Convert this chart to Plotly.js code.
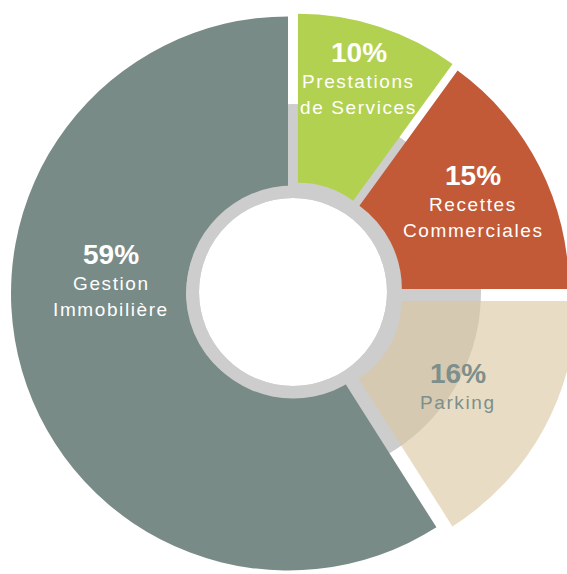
<!DOCTYPE html>
<html><head><meta charset="utf-8">
<script src="https://cdn.plot.ly/plotly-3.0.1.min.js"></script>
<style>html,body{margin:0;padding:0;overflow:hidden;background:#fff}#chart{width:620px;height:574px}</style>
</head><body><div id="chart"></div>
<script>
// ---- data ----
const categories = ['Prestations de Services', 'Recettes Commerciales', 'Parking', 'Gestion Immobilière'];
const shares = [10, 15, 16, 59];
const labelLines = [['Prestations', 'de Services'], ['Recettes', 'Commerciales'], ['Parking'], ['Gestion', 'Immobilière']];

// ---- style / geometry ----
const sliceColors = ['#b2d150', '#c25a37', 'rgba(218,198,162,0.62)', '#798b87'];
const textColors = ['#ffffff', '#ffffff', '#7d8f8b', '#ffffff'];
const pullPx = [16, 6.6, 18.7, 5.2];
const outerR = [263, 270, 267, 277];
const innerR = [94, 103, 92, 102];
const labelAnchor = [[358.5, 62], [473, 185], [458, 383], [111, 264]];
const W = 620, H = 574;
const C = [293, 292];
const ringR = 106.5, holeR = 94, backR = 188;
const ringColor = '#cdcdcd';
const FONT = 'Liberation Sans, Arial, Helvetica, sans-serif';

function domainFor(cx, cy, r) {
  return {x: [(cx - r) / W, (cx + r) / W], y: [1 - (cy + r) / H, 1 - (cy - r) / H]};
}

const total = shares.reduce((a, b) => a + b, 0);
const traces = [];
traces.push({type: 'pie', values: [1], labels: ['fond'], marker: {colors: [ringColor], line: {width: 0}},
  hole: holeR / backR, domain: domainFor(C[0], C[1], backR), textinfo: 'none', hoverinfo: 'skip', sort: false, showlegend: false});

let cum = 0;
shares.forEach((v, i) => {
  const a0 = 360 * cum / total;
  const bis = (a0 + 180 * v / total) * Math.PI / 180;
  const cx = C[0] + pullPx[i] * Math.sin(bis);
  const cy = C[1] - pullPx[i] * Math.cos(bis);
  traces.push({type: 'pie', values: [v, total - v], labels: [categories[i], 'reste'],
    marker: {colors: [sliceColors[i], 'rgba(0,0,0,0)'], line: {width: 0}},
    rotation: a0, direction: 'clockwise', sort: false, hole: innerR[i] / outerR[i],
    domain: domainFor(cx, cy, outerR[i]), textinfo: 'none', hoverinfo: 'skip', showlegend: false});
  cum += v;
});

traces.push({type: 'pie', values: [1], labels: ['anneau'], marker: {colors: [ringColor], line: {width: 0}},
  hole: holeR / ringR, domain: domainFor(C[0], C[1], ringR), textinfo: 'none', hoverinfo: 'skip', sort: false, showlegend: false});

const annotations = [];
shares.forEach((v, i) => {
  const [x, base] = labelAnchor[i];
  annotations.push({xref: 'paper', yref: 'paper', x: x / W, y: 1 - (base - 0.3465 * 28) / H,
    xanchor: 'center', yanchor: 'middle', showarrow: false,
    text: '<b>' + v + '%</b>', font: {family: FONT, size: 28, color: textColors[i]}});
  labelLines[i].forEach((line, j) => {
    const b = base + 26.5 + 25.3 * j;
    annotations.push({xref: 'paper', yref: 'paper', x: x / W, y: 1 - (b - 0.3465 * 19) / H,
      xanchor: 'center', yanchor: 'middle', showarrow: false,
      text: '<span style="letter-spacing:1.6px">' + line + '</span>', font: {family: FONT, size: 19, color: textColors[i]}});
  });
});

Plotly.newPlot('chart', traces, {
  width: W, height: H, margin: {l: 0, r: 0, t: 0, b: 0},
  paper_bgcolor: '#ffffff', plot_bgcolor: '#ffffff', showlegend: false, annotations: annotations
}, {staticPlot: true, displayModeBar: false});
</script></body></html>
